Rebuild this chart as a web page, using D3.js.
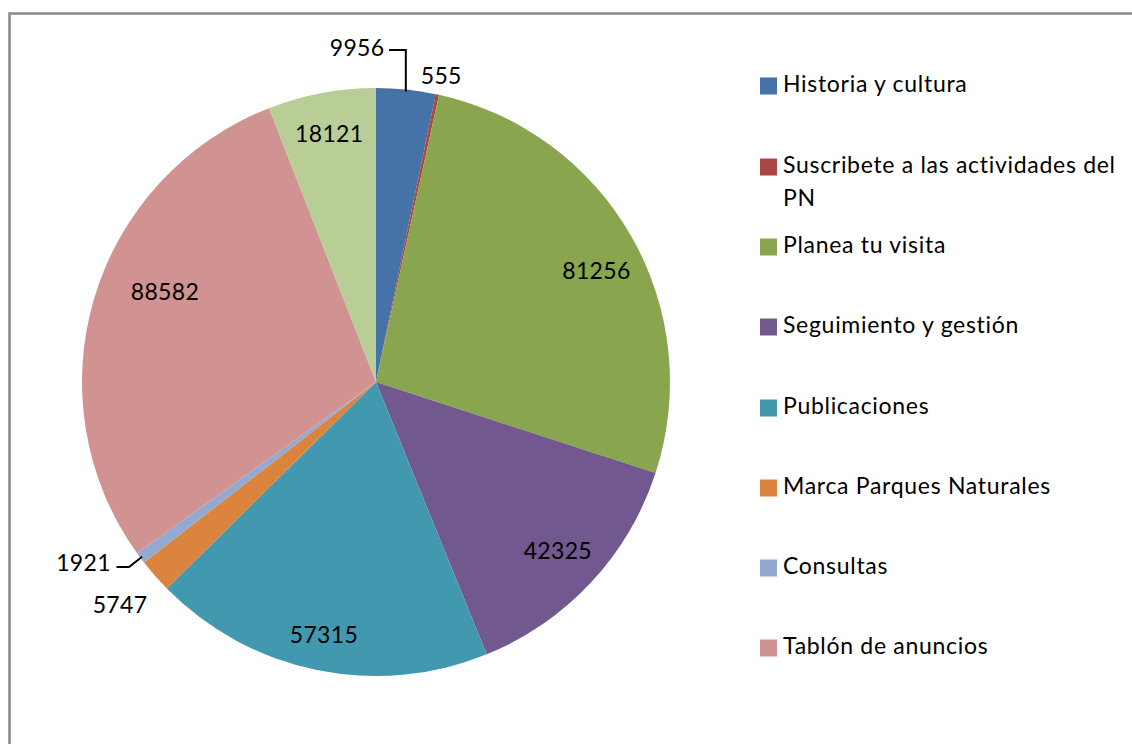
<!DOCTYPE html>
<html>
<head>
<meta charset="utf-8">
<script src="https://cdn.jsdelivr.net/npm/d3@7"></script>
<style>
  body { margin: 0; background: #fff; }
  text { font-family: Lato, "Open Sans", sans-serif; fill: #000; }
</style>
</head>
<body>
<script>
(function() {
    "use strict";

    //slice names and values, clockwise from 12 o'clock
    var categories = ["Historia y cultura", "Suscribete a las actividades del|PN", "Planea tu visita",
        "Seguimiento y gestión", "Publicaciones", "Marca Parques Naturales", "Consultas",
        "Tablón de anuncios", "Otros"];
    var values = [9956, 555, 81256, 42325, 57315, 5747, 1921, 88582, 18121];
    var colors = ["#4572A7", "#AA4643", "#89A54E", "#71588F", "#4198AF", "#DB843D", "#93A9CF", "#D19392", "#B9CD96"];
    //the legend only lists the first 8 entries (the last one is cut off in the original)
    var LEGEND_COUNT = 8;

    var WIDTH = 1132, HEIGHT = 744;
    var CX = 376, CY = 382, R = 294;

    var svg = d3.select("body").append("svg")
        .attr("width", WIDTH)
        .attr("height", HEIGHT);

    //chart frame (only the top and left edges are inside the picture)
    svg.append("path")
        .attr("d", "M9.5," + HEIGHT + "V13.5H" + WIDTH)
        .attr("fill", "none")
        .attr("stroke", "#898989")
        .attr("stroke-width", 2.5);

    var pie = d3.pie().sort(null).value(function(d) { return d; });
    var arcs = pie(values);
    var arc = d3.arc().innerRadius(0).outerRadius(R);

    var g = svg.append("g").attr("transform", "translate(" + CX + "," + CY + ")");

    g.selectAll("path.slice")
        .data(arcs)
        .enter()
        .append("path")
        .attr("class", "slice")
        .attr("d", arc)
        .attr("fill", function(d, i) { return colors[i]; });

    //label placement: radius factor and angle nudge (degrees) for each slice
    var labelK = [1.138, 1.064, 0.84, 0.845, 0.88, 1.155, 1.17, 0.78, 0.86];
    var labelNudge = [-9.1, 0, 3, 0, 0, 0.2, 5, 6.5, 0];

    function polar(angle, radius) {
        return [radius * Math.sin(angle), -radius * Math.cos(angle)];
    }
    function mid(d) { return (d.startAngle + d.endAngle) / 2; }

    var labelPos = arcs.map(function(d, i) {
        return polar(mid(d) + labelNudge[i] * Math.PI / 180, R * labelK[i]);
    });

    g.selectAll("text.value")
        .data(arcs)
        .enter()
        .append("text")
        .attr("class", "value")
        .attr("x", function(d, i) { return labelPos[i][0]; })
        .attr("y", function(d, i) { return labelPos[i][1] + 8; })
        .attr("text-anchor", "middle")
        .style("font-size", "23px")
        .style("letter-spacing", "0.3px")
        .text(function(d) { return d.data; });

    //leader lines for the two thin slices whose labels sit away from them
    function leader(i) {
        var d = arcs[i];
        var p = polar(mid(d), R - 2);
        var lp = labelPos[i];
        var w = 30; //half the label width
        if (p[1] < 0) {
            //top: go up from the slice, then left to the label
            return [[p[0], p[1]], [p[0], lp[1] + 2], [lp[0] + w + 2, lp[1] + 2]];
        }
        //bottom left: short diagonal, then left to the label
        return [[p[0], p[1]], [p[0] - 13, lp[1] + 4], [lp[0] + w + 3, lp[1] + 4]];
    }
    g.selectAll("path.leader")
        .data([0, 6])
        .enter()
        .append("path")
        .attr("class", "leader")
        .attr("d", function(i) { return d3.line()(leader(i)); })
        .attr("fill", "none")
        .attr("stroke", "#000")
        .attr("stroke-width", 2);

    //legend
    var ROW_Y = [86, 167, 247, 327, 408, 488, 568, 648];
    var legend = svg.selectAll("g.legend")
        .data(categories.slice(0, LEGEND_COUNT))
        .enter()
        .append("g")
        .attr("class", "legend")
        .attr("transform", function(d, i) { return "translate(760," + ROW_Y[i] + ")"; });

    legend.append("rect")
        .attr("x", 0)
        .attr("y", -8.5)
        .attr("width", 17)
        .attr("height", 17)
        .attr("fill", function(d, i) { return colors[i]; });

    legend.append("text")
        .attr("x", 23)
        .attr("y", 6)
        .style("font-size", "23px")
        .style("letter-spacing", "0.7px")
        .selectAll("tspan")
        .data(function(d) { return d.split("|"); })
        .enter()
        .append("tspan")
        .attr("x", 23)
        .attr("dy", function(d, j) { return j === 0 ? 0 : 33; })
        .text(function(d) { return d; });
}());
</script>
</body>
</html>
